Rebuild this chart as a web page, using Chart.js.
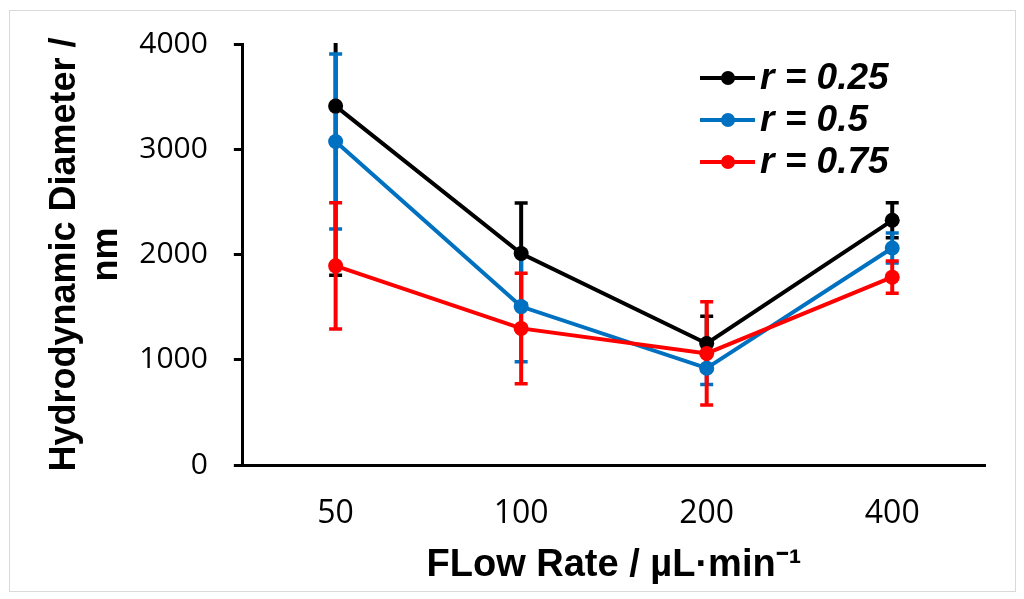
<!DOCTYPE html>
<html>
<head>
<meta charset="utf-8">
<script src="https://cdn.jsdelivr.net/npm/chart.js@4"></script>
<style>
  html, body { margin: 0; padding: 0; background: #fff; }
  #wrap { position: relative; width: 1024px; height: 599px; }
  #frame { position: absolute; left: 9px; top: 10px; width: 1005px; height: 580px; border: 1px solid #d9d9d9; pointer-events: none; }
</style>
</head>
<body>
<div id="wrap">
  <canvas id="c"></canvas>
  <div id="frame"></div>
</div>
<script>
// ---- data ----
const categories = ['50', '100', '200', '400'];
const seriesLabels = ['r = 0.25', 'r = 0.5', 'r = 0.75'];
const r025 = [3410, 2010, 1155, 2325];
const r025Err = [1606, 480, 258, 167];
const r05 = [3074, 1505, 920, 2062];
const r05Err = [831, 525, 155, 143];
const r075 = [1892, 1298, 1060, 1785];
const r075Err = [600, 525, 490, 153];
const yTicks = [0, 1000, 2000, 3000, 4000];

const colors = ['#000000', '#0070C0', '#FF0000'];
const errs = [r025Err, r05Err, r075Err];

const errorBarPlugin = {
  id: 'errorBars',
  beforeDatasetsDraw(chart) {
    const { ctx, chartArea, scales } = chart;
    const y = scales.y;
    ctx.save();
    ctx.beginPath();
    ctx.rect(chartArea.left, chartArea.top - 1, chartArea.right - chartArea.left, chartArea.bottom - chartArea.top + 2);
    ctx.clip();
    chart.data.datasets.forEach((ds, i) => {
      const meta = chart.getDatasetMeta(i);
      ds.data.forEach((v, j) => {
        const e = errs[i][j];
        const px = meta.data[j].x;
        const yt = y.getPixelForValue(v + e);
        const yb = y.getPixelForValue(v - e);
        ctx.strokeStyle = ds.borderColor;
        ctx.lineWidth = 4;
        ctx.beginPath();
        ctx.moveTo(px, yt);
        ctx.lineTo(px, yb);
        ctx.stroke();
        ctx.lineWidth = 3.5;
        ctx.beginPath();
        ctx.moveTo(px - 6.5, yt); ctx.lineTo(px + 6.5, yt);
        ctx.moveTo(px - 6.5, yb); ctx.lineTo(px + 6.5, yb);
        ctx.stroke();
      });
    });
    ctx.restore();
  }
};

const legendPlugin = {
  id: 'innerLegend',
  afterDatasetsDraw(chart) {
    const { ctx, chartArea } = chart;
    const x0 = chartArea.right - 285;
    const y0 = chartArea.top + 34;
    ctx.save();
    chart.data.datasets.forEach((ds, i) => {
      const yy = y0 + i * 42;
      ctx.strokeStyle = ds.borderColor;
      ctx.lineWidth = 4;
      ctx.beginPath();
      ctx.moveTo(x0, yy);
      ctx.lineTo(x0 + 55, yy);
      ctx.stroke();
      ctx.fillStyle = ds.borderColor;
      ctx.beginPath();
      ctx.arc(x0 + 28, yy, 7, 0, Math.PI * 2);
      ctx.fill();
      ctx.fillStyle = '#000';
      ctx.font = 'italic bold 37px "Liberation Sans", Arial, sans-serif';
      ctx.textBaseline = 'middle';
      ctx.textAlign = 'left';
      ctx.fillText(ds.label, x0 + 60, yy + 1);
    });
    ctx.restore();
  }
};

const mkDs = (label, data, color, order) => ({
  label, data,
  borderColor: color,
  backgroundColor: color,
  borderWidth: 4,
  pointRadius: 7.5,
  pointHoverRadius: 7.5,
  pointBorderWidth: 0,
  pointBackgroundColor: color,
  tension: 0,
  order
});

new Chart(document.getElementById('c'), {
  type: 'line',
  data: {
    labels: categories,
    datasets: [
      mkDs(seriesLabels[0], r025, colors[0], 3),
      mkDs(seriesLabels[1], r05, colors[1], 2),
      mkDs(seriesLabels[2], r075, colors[2], 1)
    ]
  },
  options: {
    responsive: true,
    maintainAspectRatio: false,
    animation: false,
    events: [],
    layout: { padding: { left: 44, right: 39, top: 44, bottom: 4 } },
    plugins: { legend: { display: false }, tooltip: { enabled: false } },
    scales: {
      x: {
        offset: true,
        grid: { display: false, drawTicks: false },
        border: { display: true, color: '#000', width: 3 },
        ticks: { color: '#000', padding: 30, font: { family: '"Open Sans"', size: 32 } },
        title: {
          display: true,
          text: 'FLow Rate / µL·min⁻¹',
          color: '#000',
          font: { family: '"Liberation Sans", Arial', weight: 'bold', size: 38, lineHeight: 1.2 },
          padding: { top: -21, bottom: 7 }
        }
      },
      y: {
        min: 0, max: 4000,
        afterBuildTicks: (axis) => { axis.ticks = yTicks.map(v => ({ value: v })); },
        grid: { display: true, drawOnChartArea: false, drawTicks: true, tickLength: 9, color: '#000', lineWidth: 3, tickWidth: 3, tickColor: '#000' },
        border: { display: true, color: '#000', width: 3 },
        ticks: { color: '#000', padding: 26, font: { family: '"Open Sans"', size: 30 }, callback: (v) => String(v) },
        title: {
          display: true,
          text: ['Hydrodynamic Diameter /', 'nm'],
          color: '#000',
          font: { family: '"Liberation Sans", Arial', weight: 'bold', size: 36, lineHeight: 1.17 },
          padding: { top: 0, bottom: -15 }
        }
      }
    }
  },
  plugins: [errorBarPlugin, legendPlugin]
});
</script>
</body>
</html>
